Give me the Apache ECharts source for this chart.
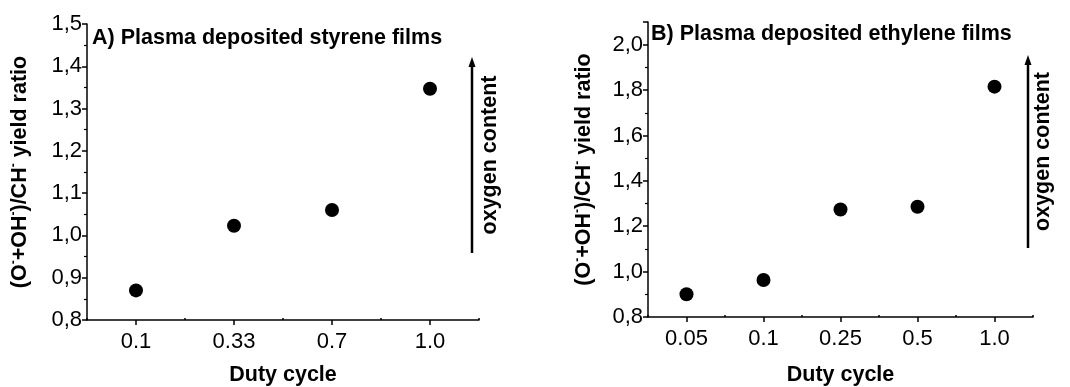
<!DOCTYPE html>
<html>
<head>
<meta charset="utf-8">
<script src="https://cdn.jsdelivr.net/npm/echarts@6/dist/echarts.min.js"></script>
<style>
  html, body { margin: 0; padding: 0; background: #fff; }
  #chart { width: 1070px; height: 387px; }
</style>
</head>
<body>
<div id="chart"></div>
<script>
  // data
  var catsA = ["0.1", "0.33", "0.7", "1.0"];
  var valsA = [0.87, 1.023, 1.06, 1.347];
  var catsB = ["0.05", "0.1", "0.25", "0.5", "1.0"];
  var valsB = [0.9, 0.963, 1.274, 1.286, 1.815];
  var yRangeA = [0.8, 1.5, 0.1]; // min, max, step
  var yRangeB = [0.8, 2.1, 0.2];
  var titleA = "A) Plasma deposited styrene films";
  var titleB = "B) Plasma deposited ethylene films";

  var FONT = "Liberation Sans, Arial, sans-serif";
  var chart = echarts.init(document.getElementById("chart"));

  function comma(v) {
    return v.toFixed(1).replace(".", ",");
  }

  var yName = "(O{s|-}+OH{s|-})/CH{s|-} yield ratio";
  var nameStyle = {
    fontFamily: FONT, fontSize: 21.5, fontWeight: "bold", color: "#000",
    rich: { s: { fontFamily: FONT, fontSize: 12, fontWeight: "bold", verticalAlign: "top", lineHeight: 24 } }
  };
  var axisLine = { show: true, lineStyle: { color: "#000", width: 1.5 } };

  function mainX(idx, cats, gap) {
    return {
      type: "category", gridIndex: idx, data: cats,
      name: "Duty cycle", nameLocation: "middle", nameGap: gap,
      nameTextStyle: { fontFamily: FONT, fontSize: 21.5, fontWeight: "bold", color: "#000" },
      axisLine: axisLine,
      axisTick: { show: true, alignWithLabel: true, inside: false, length: 5, lineStyle: { color: "#000", width: 1.5 } },
      axisLabel: { fontFamily: FONT, fontSize: 22, color: "#000", margin: 11 },
      splitLine: { show: false }
    };
  }
  // second axis only to draw the small ticks between categories
  function tickX(idx, cats) {
    return {
      type: "category", gridIndex: idx, data: cats, position: "bottom",
      axisLine: { show: false },
      axisTick: { show: true, inside: true, length: 2, lineStyle: { color: "#000", width: 1.5 } },
      axisLabel: { show: false },
      splitLine: { show: false }
    };
  }
  function mainY(idx, r, gap) {
    return {
      type: "value", gridIndex: idx, min: r[0], max: r[1], interval: r[2],
      name: yName, nameLocation: "middle", nameGap: gap, nameRotate: 90,
      nameTextStyle: nameStyle,
      axisLine: axisLine,
      axisTick: { show: true, inside: false, length: 5, lineStyle: { color: "#000", width: 1.5 } },
      minorTick: { show: true, splitNumber: 2, length: 3, lineStyle: { color: "#000", width: 1.2 } },
      axisLabel: {
        fontFamily: FONT, fontSize: 22, color: "#000", margin: 5, showMaxLabel: r[1] === 1.5,
        formatter: function (v) {
          var k = Math.round((v - r[0]) / r[2] * 1000) / 1000;
          return Math.abs(k - Math.round(k)) < 1e-6 ? comma(v) : "";
        }
      },
      splitLine: { show: false }
    };
  }

  function arrow(x, yTop, yBottom, textX) {
    return [
      { type: "line", shape: { x1: x, y1: yBottom, x2: x, y2: yTop + 8 }, style: { stroke: "#000", lineWidth: 2.5 } },
      { type: "polygon", shape: { points: [[x, yTop], [x - 3.5, yTop + 10], [x + 3.5, yTop + 10]] }, style: { fill: "#000" } },
      {
        type: "text", x: textX, y: (yTop + yBottom) / 2, rotation: Math.PI / 2,
        style: { text: "oxygen content", font: "bold 21.5px " + FONT, fill: "#000", align: "center", verticalAlign: "middle" }
      }
    ];
  }

  var option = {
    backgroundColor: "#fff",
    animation: false,
    title: [
      { text: titleA, left: 92, top: 27, padding: 0, textStyle: { fontFamily: FONT, fontSize: 21.5, fontWeight: "bold", color: "#000" } },
      { text: titleB, left: 651, top: 23, padding: 0, textStyle: { fontFamily: FONT, fontSize: 21.5, fontWeight: "bold", color: "#000" } }
    ],
    grid: [
      { left: 87, top: 24, width: 392, height: 296, containLabel: false, outerBoundsMode: "none" },
      { left: 648, top: 22, width: 385, height: 295, containLabel: false, outerBoundsMode: "none" }
    ],
    xAxis: [mainX(0, catsA, 44), mainX(1, catsB, 47), tickX(0, catsA), tickX(1, catsB)],
    yAxis: [mainY(0, yRangeA, 55), mainY(1, yRangeB, 52)],
    series: [
      { type: "scatter", xAxisIndex: 0, yAxisIndex: 0, data: valsA, symbolSize: 14, itemStyle: { color: "#000", opacity: 1 } },
      { type: "scatter", xAxisIndex: 1, yAxisIndex: 1, data: valsB, symbolSize: 14, itemStyle: { color: "#000", opacity: 1 } }
    ],
    graphic: arrow(472, 57, 253, 490).concat(arrow(1028, 55, 248, 1043))
  };

  chart.setOption(option);
  window.addEventListener("resize", function () {
    chart.resize();
  });
</script>
</body>
</html>
